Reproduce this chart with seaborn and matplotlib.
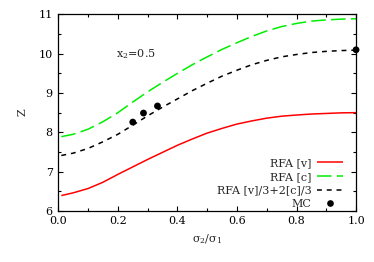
import numpy as np
import pandas as pd
import matplotlib
matplotlib.use("Agg")
import matplotlib.pyplot as plt
from matplotlib.lines import Line2D
from matplotlib.ticker import MultipleLocator, FormatStrFormatter
import seaborn as sns

# values
ratio = [0.01, 0.05, 0.1, 0.15, 0.2, 0.25, 0.3, 0.35, 0.4, 0.45, 0.5,
         0.55, 0.6, 0.65, 0.7, 0.75, 0.8, 0.85, 0.9, 0.95, 1.0]
rfa_v = [6.39, 6.46, 6.57, 6.73, 6.93, 7.12, 7.31, 7.49, 7.67, 7.83, 7.98,
         8.10, 8.21, 8.29, 8.36, 8.41, 8.44, 8.465, 8.48, 8.495, 8.50]
rfa_c = [7.89, 7.95, 8.08, 8.27, 8.50, 8.77, 9.03, 9.27, 9.50, 9.72, 9.92,
         10.11, 10.28, 10.44, 10.58, 10.69, 10.77, 10.83, 10.86, 10.88, 10.89]
rfa_mix = [7.41, 7.47, 7.59, 7.76, 7.95, 8.18, 8.42, 8.64, 8.85, 9.06, 9.25,
           9.43, 9.58, 9.72, 9.83, 9.92, 9.98, 10.03, 10.06, 10.08, 10.09]
mc_ratio = [0.25, 0.286, 0.333, 1.0]
mc_z = [8.26, 8.49, 8.67, 10.10]

labels = ["RFA [v]", "RFA [c]", "RFA [v]/3+2[c]/3", "MC"]
colors = ["#ff0000", "#00ee00", "black"]
dashes = [(1, 0), (9.5, 3.5), (3.2, 3.2)]

n = len(ratio)
df = pd.DataFrame({"ratio": ratio * 3,
                   "Z": rfa_v + rfa_c + rfa_mix,
                   "model": [labels[0]] * n + [labels[1]] * n + [labels[2]] * n})
mc = pd.DataFrame({"ratio": mc_ratio, "Z": mc_z})

sns.set_style("ticks")
plt.rcParams["font.family"] = ["DejaVu Serif"]
plt.rcParams["mathtext.fontset"] = "dejavuserif"
fs = 8

fig = plt.figure(figsize=(3.74, 2.62), dpi=100)
ax = fig.add_axes([0.156, 0.195, 0.796, 0.750])

sns.lineplot(data=df, x="ratio", y="Z", hue="model", style="model",
             palette=colors, dashes=dashes, linewidth=1.1, legend=False, ax=ax)
sns.scatterplot(data=mc, x="ratio", y="Z", color="black", s=24,
                edgecolor="none", legend=False, ax=ax, clip_on=False, zorder=5)

ax.set_xlim(0, 1)
ax.set_ylim(6, 11)
ax.xaxis.set_major_locator(MultipleLocator(0.2))
ax.xaxis.set_minor_locator(MultipleLocator(0.1))
ax.yaxis.set_major_locator(MultipleLocator(1))
ax.yaxis.set_minor_locator(MultipleLocator(0.5))
ax.xaxis.set_major_formatter(FormatStrFormatter("%.1f"))
ax.tick_params(which="both", direction="in", top=True, right=True,
               width=0.8, labelsize=fs, colors="black")
ax.tick_params(which="major", length=3.5, pad=4)
ax.tick_params(which="minor", length=2.2)
for s in ax.spines.values():
    s.set_linewidth(0.9)
    s.set_color("black")

ax.set_xlabel("σ$_2$/σ$_1$", fontsize=fs, labelpad=4)
ax.set_ylabel("Z", fontsize=fs, labelpad=8)
ax.text(0.26, 10.0, "x$_2$=0.5", fontsize=fs, ha="center", va="center")

handles = [Line2D([], [], color=c, lw=1.1, dashes=d) for c, d in zip(colors, dashes)]
handles.append(Line2D([], [], color="black", ls="none", marker="o",
                      markersize=4.8, markeredgewidth=0))
leg = ax.legend(handles, labels, loc="lower right", bbox_to_anchor=(0.955, 0.01),
                frameon=False, markerfirst=False, fontsize=fs,
                handlelength=2.3, handletextpad=0.5, labelspacing=0.32,
                borderpad=0, borderaxespad=0)

fig.savefig("out.png", dpi=100)
